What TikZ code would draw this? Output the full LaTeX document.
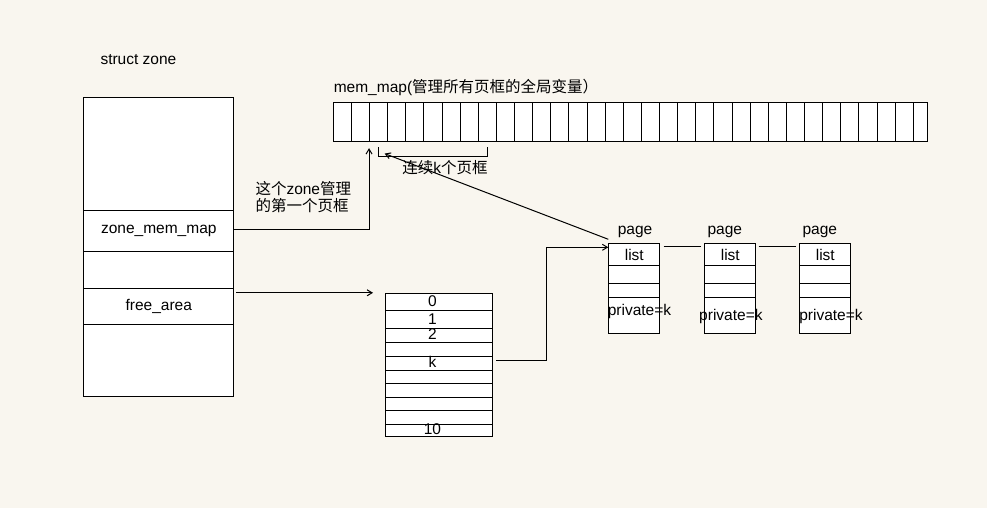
\documentclass[tikz,border=0pt]{standalone}
\usepackage{fontspec}
\setmainfont{Liberation Sans}
\newfontfamily\cjk{Noto Sans CJK SC}
\usetikzlibrary{arrows.meta}
\definecolor{paper}{HTML}{F9F6EF}

\begin{document}
\begin{tikzpicture}[x=1pt,y=-1pt,line width=1pt,inner sep=0pt,
    font=\fontsize{15.5}{17}\selectfont,
    fld/.style={draw,fill=white,minimum width=150pt,anchor=north west},
    cell/.style={draw,fill=white,minimum width=18.125pt,minimum height=39.4pt},
    slot/.style={draw,fill=white,minimum width=106.8pt},
    pgrow/.style={draw,fill=white,minimum width=51pt,anchor=north west},
    arr/.style={-{Straight Barb[length=5pt,width=6pt]}}]
		% paper
		\fill[paper] (0,0) rectangle (987,508);
		\useasboundingbox (0,0) rectangle (987,508);
		% struct zone
		\node[anchor=west] (ztitle) at (100,60) {struct zone};
		\node[fld,minimum height=113pt] (z1) at (83.3,97.3) {};
		\node[fld,minimum height=40.7pt] (zmm) at (83.3,210.3) {zone\_mem\_map};
		\node[fld,minimum height=37.3pt] (z3) at (83.3,251) {};
		\node[fld,minimum height=35.7pt] (fa) at (83.3,288.3) {free\_area};
		\node[fld,minimum height=72pt] (z5) at (83.3,324) {};
		% mem_map array
		\node[anchor=west] (mtitle) at (333.3,87) {mem\_map({\cjk 管理所有页框的全局变量）}};
		\foreach \i in {1,...,32}
			\node[cell] (m\i) at ({333.3+(\i-0.5)*18.125},121.9) {};
		\node[cell,minimum width=14pt] (m33) at (920.3,121.9) {};
		% first page frame of the zone
		\draw[arr] ([yshift=1.3pt]zmm.east) -| ([yshift=-6pt]m3.south west);
		\node[anchor=west,align=left] (note) at (255,197.5) {{\cjk 这个}zone{\cjk 管理}\\{\cjk 的第一个页框}};
		% k consecutive frames
		\draw ([yshift=-5pt]m3.south) -- ([yshift=-14.5pt]m3.south) -| ([yshift=-5pt]m9.south);
		\coordinate (brk) at ([xshift=6pt,yshift=-11.5pt]m3.south);
		\node (klbl) at (445,168) {{\cjk 连续}k{\cjk 个页框}};
		% free_area array
		\foreach \top/\bot/\lbl [count=\i] in {293.3/310.7/0, 310.7/328.7/1, 328.7/342.3/2, 342.3/356/{}, 356/370/k, 370/383.7/{}, 383.7/397/{}, 397/410.3/{}, 410.3/424.3/{}, 424.3/436.7/10} {
			\node[slot,minimum height={(\bot-\top)*1pt}] (r\i) at (438.9,{(\top+\bot)/2}) {};
			\node (rl\i) at ([xshift=-6.5pt,yshift=1pt]r\i.center) {\lbl};
		}
		\draw[arr] ([xshift=1.7pt]fa.north east |- r1.north west) -- ([xshift=-12pt]r1.north west);
		% pages
		\foreach \n/\x/\px/\tx/\ty in {1/608.3/635/639.5/311, 2/704.3/724.8/730.9/316, 3/799.3/819.8/831/316} {
			\node (pg\n) at (\px,231.7) {page};
			\node[pgrow,minimum height=21.7pt] (pa\n) at (\x,243.3) {list};
			\node[pgrow,minimum height=18.3pt] (pb\n) at (\x,265) {};
			\node[pgrow,minimum height=14pt] (pc\n) at (\x,283.3) {};
			\node[pgrow,minimum height=36pt] (pd\n) at (\x,297.3) {};
			\node (pv\n) at (\tx,\ty) {private=k};
		}
		\draw ([xshift=3.4pt,yshift=-3.4pt]pa1.north east) -- ([xshift=-3.3pt,yshift=-3.4pt]pa2.north west);
		\draw ([xshift=2.3pt,yshift=-3.4pt]pa2.north east) -- ([xshift=-3.3pt,yshift=-3.4pt]pa3.north west);
		\draw[arr] ([xshift=3.5pt,yshift=3pt]r5.east) -- ++(50,0) |- ([yshift=-4pt]pa1.north west);
		\draw[arr] ([yshift=4pt]pa1.north west) -- (brk);
	\end{tikzpicture}
\end{document}
